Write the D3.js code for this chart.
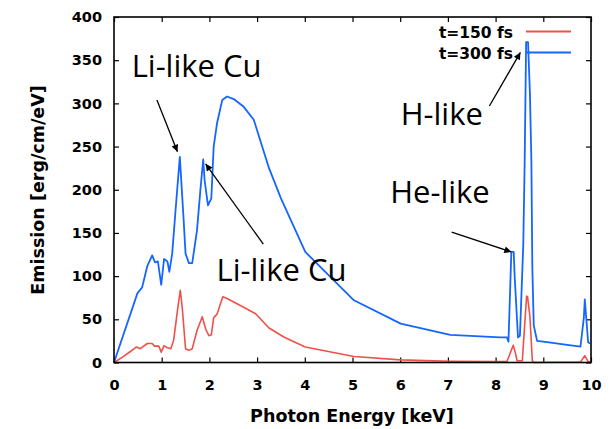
<!DOCTYPE html>
<html>
<head>
<meta charset="utf-8">
<script src="https://cdn.jsdelivr.net/npm/d3@7"></script>
<style>
  html, body { margin: 0; padding: 0; background: #fff; }
  svg { display: block; }
</style>
</head>
<body>
<svg id="chart" width="616" height="429"></svg>
<script>
// ---- data ----
const seriesNames = ["t=150 fs", "t=300 fs"];
const xTicks = [0, 1, 2, 3, 4, 5, 6, 7, 8, 9, 10];
const yTicks = [0, 50, 100, 150, 200, 250, 300, 350, 400];

const energy300 = [0, 0.49, 0.59, 0.70, 0.80, 0.86, 0.92, 0.99, 1.05, 1.12, 1.16, 1.22, 1.29, 1.38, 1.46, 1.50, 1.57, 1.64, 1.74, 1.81, 1.87, 1.90, 1.97, 2.04, 2.09, 2.16, 2.27, 2.37, 2.51, 2.72, 2.93, 3.25, 3.50, 4.01, 5.03, 6.01, 7.05, 8.10, 8.24, 8.27, 8.33, 8.38, 8.40, 8.47, 8.51, 8.58, 8.61, 8.64, 8.68, 8.72, 8.75, 8.77, 8.80, 8.87, 9.08, 9.50, 9.78, 9.85, 9.87, 9.90, 9.94, 9.98];
const emission300 = [0, 80, 87, 112, 124, 116, 117, 90, 120, 117, 105, 126, 176, 238, 165, 126, 115, 115, 153, 199, 235, 211, 182, 190, 250, 277, 304, 308, 305, 296, 281, 225, 190, 128, 72, 45, 32, 29, 29, 24, 128, 128, 99, 29, 31, 136, 234, 371, 371, 311, 234, 110, 43, 25, 23.5, 20.5, 18.5, 52, 73, 52, 23.5, 22];

const energy150 = [0, 0.17, 0.35, 0.47, 0.55, 0.70, 0.80, 0.85, 0.94, 0.99, 1.05, 1.12, 1.19, 1.25, 1.34, 1.39, 1.43, 1.50, 1.57, 1.64, 1.74, 1.85, 1.92, 1.99, 2.04, 2.09, 2.16, 2.28, 2.37, 2.65, 2.97, 3.25, 3.56, 4.01, 5.03, 6.01, 7.05, 8.10, 8.24, 8.37, 8.42, 8.45, 8.56, 8.65, 8.67, 8.72, 8.77, 8.80, 9.78, 9.87, 9.94, 10];
const emission150 = [0, 6, 13, 18, 16, 22, 22, 19, 19, 12, 19.5, 17, 16, 25.5, 64, 83.5, 64, 16, 14, 16, 37, 53, 39, 31, 32, 52, 56, 76, 74, 66, 56.5, 40, 29.5, 18, 7, 3, 1.5, 1, 1.5, 20, 10, 2, 2, 77, 76, 53, 2, 0, 0.5, 8, 1, 0];

// annotations: label, label position (data units), arrow from/to (data units)
const annoLabels = ["Li-like Cu", "Li-like Cu", "H-like", "He-like"];
const annoLabelPos = [[0.37, 331], [2.15, 94], [6.01, 275], [5.79, 185]];
const arrowFrom = [[0.90, 304], [3.13, 137], [7.87, 297], [7.08, 151]];
const arrowTo = [[1.33, 244], [1.92, 230], [8.52, 359], [8.33, 128]];

// ---- layout ----
const svg = d3.select("#chart");
const mLeft = 114, mRight = 591, mTop = 17, mBottom = 362.5;
const x = d3.scaleLinear().domain([0, 10]).range([mLeft, mRight]);
const y = d3.scaleLinear().domain([0, 400]).range([mBottom, mTop]);

const red = "#f0504a", blue = "#1466ff";
const tickFont = "'DejaVu Sans', sans-serif";

// axes
const xAxis = svg.append("g").attr("transform", `translate(0,${mBottom})`)
  .call(d3.axisBottom(x).tickValues(xTicks).tickFormat(d3.format("d")).tickSize(-5).tickPadding(17));
const yAxis = svg.append("g").attr("transform", `translate(${mLeft},0)`)
  .call(d3.axisLeft(y).tickValues(yTicks).tickFormat(d3.format("d")).tickSize(-5).tickPadding(12));
const xTop = svg.append("g").attr("transform", `translate(0,${mTop})`)
  .call(d3.axisTop(x).tickValues(xTicks).tickFormat("").tickSize(-5));
const yRight = svg.append("g").attr("transform", `translate(${mRight},0)`)
  .call(d3.axisRight(y).tickValues(yTicks).tickFormat("").tickSize(-5));

[xAxis, yAxis, xTop, yRight].forEach(g => {
  g.select(".domain").remove();
  g.selectAll(".tick line").attr("stroke", "#000").attr("stroke-width", 1.2);
  g.selectAll(".tick text")
    .attr("fill", "#000")
    .style("font-family", tickFont)
    .style("font-weight", "bold")
    .style("font-size", "14.5px");
});

// lines
const line = d3.line().x(d => x(d[0])).y(d => y(d[1]));
const d150 = energy150.map((e, i) => [e, emission150[i]]);
const d300 = energy300.map((e, i) => [e, emission300[i]]);

svg.append("path").datum(d150).attr("d", line)
  .attr("fill", "none").attr("stroke", red).attr("stroke-width", 1.6).attr("stroke-linejoin", "round");
svg.append("path").datum(d300).attr("d", line)
  .attr("fill", "none").attr("stroke", blue).attr("stroke-width", 1.8).attr("stroke-linejoin", "round");

// frame
svg.append("rect").attr("x", mLeft).attr("y", mTop)
  .attr("width", mRight - mLeft).attr("height", mBottom - mTop)
  .attr("fill", "none").attr("stroke", "#000").attr("stroke-width", 1.6);

// axis titles
svg.append("text").attr("x", (mLeft + mRight) / 2 - 0.5).attr("y", 421.5)
  .attr("text-anchor", "middle")
  .style("font-family", tickFont).style("font-weight", "bold").style("font-size", "17.5px")
  .text("Photon Energy [keV]");
svg.append("text").attr("transform", "translate(44,190) rotate(-90)")
  .attr("text-anchor", "middle")
  .style("font-family", tickFont).style("font-weight", "bold").style("font-size", "17.5px")
  .text("Emission [erg/cm/eV]");

// legend
const legendY = [31.5, 52.5];
const legendColors = [red, blue];
seriesNames.forEach((name, i) => {
  svg.append("text").attr("x", 513).attr("y", legendY[i] + 6)
    .attr("text-anchor", "end")
    .style("font-family", tickFont).style("font-weight", "bold").style("font-size", "15.5px")
    .text(name);
  svg.append("line").attr("x1", 526).attr("x2", 571)
    .attr("y1", legendY[i]).attr("y2", legendY[i])
    .attr("stroke", legendColors[i]).attr("stroke-width", 1.8);
});

// arrows
const defs = svg.append("defs");
defs.append("marker").attr("id", "ah")
  .attr("viewBox", "0 0 10 10").attr("refX", 10).attr("refY", 5)
  .attr("markerUnits", "userSpaceOnUse")
  .attr("markerWidth", 9).attr("markerHeight", 7)
  .attr("orient", "auto")
  .append("path").attr("d", "M0,0 L10,5 L0,10 Z").attr("fill", "#000");

arrowFrom.forEach((f, i) => {
  svg.append("line")
    .attr("x1", x(f[0])).attr("y1", y(f[1]))
    .attr("x2", x(arrowTo[i][0])).attr("y2", y(arrowTo[i][1]))
    .attr("stroke", "#000").attr("stroke-width", 1.3)
    .attr("marker-end", "url(#ah)");
});

// annotation labels
annoLabels.forEach((t, i) => {
  svg.append("text").attr("x", x(annoLabelPos[i][0])).attr("y", y(annoLabelPos[i][1]))
    .style("font-family", "'Open Sans', sans-serif").style("font-size", "31px")
    .attr("fill", "#000")
    .text(t);
});
</script>
</body>
</html>
